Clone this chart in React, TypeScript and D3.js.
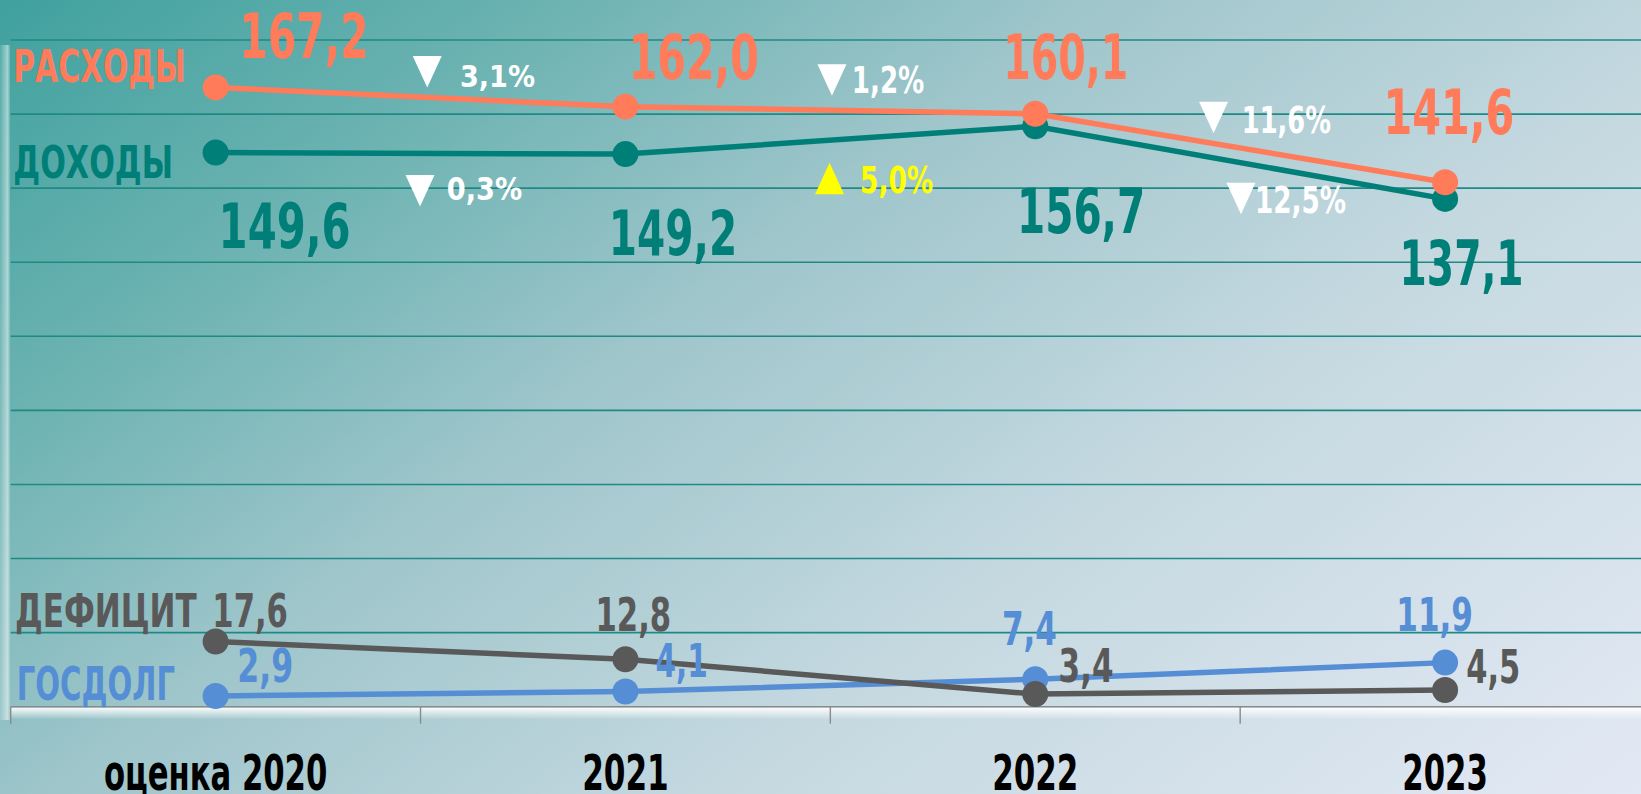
import React from 'react';
import * as d3 from 'd3';

const W = 1641;
const H = 794;

// budget figures, bn
const categories = ['оценка 2020', '2021', '2022', '2023'];
const expenses = [167.2, 162.0, 160.1, 141.6];
const incomes = [149.6, 149.2, 156.7, 137.1];
const deficit = [17.6, 12.8, 3.4, 4.5];
const debt = [2.9, 4.1, 7.4, 11.9];
const yTicks = [20, 40, 60, 80, 100, 120, 140, 160, 180];

// label placement: offset from the point to text start / baseline, and width
const expLabels = [[24, -29, 129], [3.3, -27.4, 130], [-32, -34.4, 125], [-61.5, -48.2, 130.7]];
const incLabels = [[3, 95.7, 132], [-16.7, 100.9, 128.4], [-18.3, 107, 128.3], [-45.5, 86.1, 124]];
const defLabels = [[-3.3, -14.8, 75.6], [-30, -28.6, 75.7], [23.3, -12.4, 55], [21.2, -7.3, 54]];
const debtLabels = [[21.7, -14.3, 56], [30, -14.8, 52.3], [-33.3, -34.3, 55], [-48.8, -31.9, 76.7]];
// change annotations: [triX, triTop, textX, baseline, width, fontSize] relative to boundary x / segment mid y
const expChange = [[6.7, -41, 39.5, -9.75, 75, 31], [1.6, -45.9, 21.4, -17.5, 72.6, 38], [-26.6, -46.25, 1.6, -15.25, 89.3, 38]];
const incChange = [[-0.5, 21.65, 26.2, 46.65, 75.4, 32], [-0.8, 22.5, 29.7, 53.1, 73.3, 37], [0.8, 20.1, 14.9, 50.7, 91, 37]];
const catWidths = [223.4, 86.6, 86, 85.6];

const FONT = "'Liberation Sans Narrow', 'Arial Narrow', 'DejaVu Sans Condensed', sans-serif";
const C_EXP = '#ff7b5a';
const C_INC = '#007f78';
const C_DEF = '#595959';
const C_DEBT = '#558ed5';

const fmt = (v: number) => v.toFixed(1).replace('.', ',');

export default function App() {
  const x = d3.scaleBand().domain(categories).range([10.7, 1650]).paddingInner(0).paddingOuter(0);
  const y = d3.scaleLinear().domain([0, 180]).range([706.7, 40]);
  const cx = (i: number) => (x(categories[i]) as number) + x.bandwidth() / 2;

  const line = d3.line<number>().x((d, i) => cx(i)).y(d => y(d));

  const series = [
    { data: debt, color: C_DEBT, labels: debtLabels, fs: 46 },
    { data: deficit, color: C_DEF, labels: defLabels, fs: 46 },
    { data: incomes, color: C_INC, labels: incLabels, fs: 63 },
    { data: expenses, color: C_EXP, labels: expLabels, fs: 63 },
  ];

  const changes = (data: number[], layout: number[][]) =>
    d3.pairs(data).map(([a, b], i) => {
      const pct = ((b - a) / a) * 100;
      const bx = x(categories[i + 1]) as number;
      const my = (y(a) + y(b)) / 2;
      const [tx, tt, lx, base, w, fs] = layout[i];
      const up = pct > 0;
      const color = up ? '#ffff00' : '#ffffff';
      const tcx = bx + tx;
      const top = my + tt;
      const tri = up
        ? `M${tcx - 14.5},${top + 31.5}L${tcx + 14.5},${top + 31.5}L${tcx},${top}Z`
        : `M${tcx - 14.5},${top}L${tcx + 14.5},${top}L${tcx},${top + 31.5}Z`;
      return (
        <g key={i}>
          <path d={tri} fill={color} />
          <text x={bx + lx} y={my + base} fill={color} fontSize={fs} fontWeight="bold"
            textLength={w} lengthAdjust="spacingAndGlyphs">
            {fmt(Math.abs(pct)) + '%'}
          </text>
        </g>
      );
    });

  return (
    <div style={{ position: 'fixed', left: 0, top: 0 }}>
      <svg width={W} height={H} style={{ display: 'block', fontFamily: FONT }}>
        <defs>
          <linearGradient id="bg" gradientUnits="userSpaceOnUse" x1="0" y1="0" x2="988" y2="1293">
            <stop offset="0" stopColor="#3fa19e" />
            <stop offset="0.2" stopColor="#6ab2b1" />
            <stop offset="0.4" stopColor="#9dc5ca" />
            <stop offset="0.65" stopColor="#c4d8e0" />
            <stop offset="1" stopColor="#e3e9f4" />
          </linearGradient>
          <linearGradient id="floor" x1="0" y1="0" x2="0" y2="1">
            <stop offset="0" stopColor="#ffffff" stopOpacity="0.95" />
            <stop offset="1" stopColor="#ffffff" stopOpacity="0" />
          </linearGradient>
          <linearGradient id="wall" x1="0" y1="0" x2="1" y2="0">
            <stop offset="0" stopColor="#ffffff" stopOpacity="0.1" />
            <stop offset="0.75" stopColor="#ffffff" stopOpacity="0.5" />
            <stop offset="1" stopColor="#ffffff" stopOpacity="0.15" />
          </linearGradient>
        </defs>
        <rect width={W} height={H} fill="url(#bg)" />

        {/* side wall and floor */}
        <rect x={0} y={45} width={10} height={675} fill="url(#wall)" />
        <rect x={10.7} y={707.5} width={W} height={12} fill="url(#floor)" />

        {/* gridlines */}
        {yTicks.map(t => (
          <line key={t} x1={10.7} x2={W} y1={y(t)} y2={y(t)} stroke="#1f8a83" strokeWidth={1.6} />
        ))}

        {/* axis */}
        <line x1={10.7} x2={W} y1={y(0)} y2={y(0)} stroke="#8a8a8a" strokeWidth={1.6} />
        {categories.map(c => (
          <line key={c} x1={x(c)} x2={x(c)} y1={y(0)} y2={y(0) + 17} stroke="#8a8a8a" strokeWidth={1.4} />
        ))}
        {categories.map((c, i) => (
          <text key={c} x={cx(i)} y={789.5} textAnchor="middle" fontSize={49} fontWeight="bold" fill="#000"
            textLength={catWidths[i]} lengthAdjust="spacingAndGlyphs">
            {c}
          </text>
        ))}

        {/* series */}
        {series.map((s, k) => (
          <g key={k}>
            <path d={line(s.data) as string} fill="none" stroke={s.color} strokeWidth={5.5} />
            {s.data.map((v, i) => (
              <circle key={i} cx={cx(i)} cy={y(v)} r={13} fill={s.color} />
            ))}
          </g>
        ))}

        {/* value labels */}
        {series.map((s, k) => (
          <g key={k}>
            {s.data.map((v, i) => (
              <text key={i} x={cx(i) + s.labels[i][0]} y={y(v) + s.labels[i][1]} fill={s.color}
                fontSize={s.fs} fontWeight="bold" textLength={s.labels[i][2]} lengthAdjust="spacingAndGlyphs">
                {fmt(v)}
              </text>
            ))}
          </g>
        ))}

        {/* change annotations */}
        {changes(expenses, expChange)}
        {changes(incomes, incChange)}

        {/* series names */}
        <text x={13.3} y={81.7} fill={C_EXP} fontSize={44} fontWeight="bold" textLength={172.4} lengthAdjust="spacingAndGlyphs">РАСХОДЫ</text>
        <text x={13.3} y={178.3} fill={C_INC} fontSize={44} fontWeight="bold" textLength={159.7} lengthAdjust="spacingAndGlyphs">ДОХОДЫ</text>
        <text x={15} y={626.7} fill={C_DEF} fontSize={46} fontWeight="bold" textLength={181.7} lengthAdjust="spacingAndGlyphs">ДЕФИЦИТ</text>
        <text x={16.7} y={700} fill={C_DEBT} fontSize={46} fontWeight="bold" textLength={158.3} lengthAdjust="spacingAndGlyphs">ГОСДОЛГ</text>
      </svg>
    </div>
  );
}
